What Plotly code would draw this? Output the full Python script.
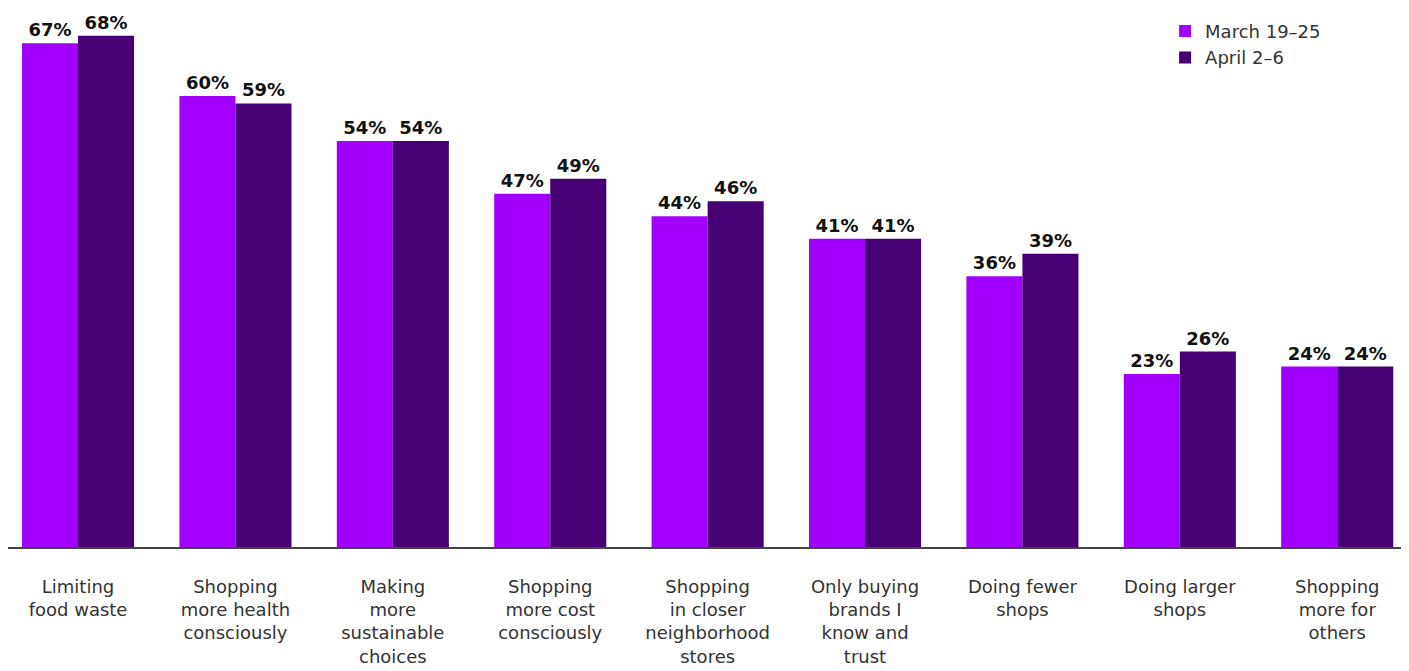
import plotly.graph_objects as go

categories = [
    "Limiting<br>food waste",
    "Shopping<br>more health<br>consciously",
    "Making<br>more<br>sustainable<br>choices",
    "Shopping<br>more cost<br>consciously",
    "Shopping<br>in closer<br>neighborhood<br>stores",
    "Only buying<br>brands I<br>know and<br>trust",
    "Doing fewer<br>shops",
    "Doing larger<br>shops",
    "Shopping<br>more for<br>others",
]
march = [67, 60, 54, 47, 44, 41, 36, 23, 24]
april = [68, 59, 54, 49, 46, 41, 39, 26, 24]
series_names = ["March 19\u201325", "April 2\u20136"]
colors = ["#A100FF", "#460073"]

fig = go.Figure()
for name, vals, col in zip(series_names, [march, april], colors):
    fig.add_trace(go.Bar(
        x=categories, y=vals, name=name,
        marker=dict(color=col, line=dict(width=0)),
        text=[f"{v}%" for v in vals],
        textposition="outside",
        textfont=dict(family="DejaVu Sans", size=18, color="#111111", weight="bold"),
        cliponaxis=False,
    ))

fig.update_layout(
    width=1401, height=663,
    margin=dict(l=0, r=0, t=0, b=124),
    paper_bgcolor="white", plot_bgcolor="white",
    barmode="group", bargap=0.288, bargroupgap=0,
    font=dict(family="DejaVu Sans", color="#333333"),
    legend=dict(
        x=0.8259, y=0.991, xanchor="left", yanchor="top",
        font=dict(size=18, color="#333333"),
        bgcolor="rgba(0,0,0,0)",
    ),
    showlegend=True,
)
fig.update_yaxes(range=[0, 71.7], visible=False, showgrid=False)
fig.update_xaxes(
    range=[-0.445, 8.456],
    showline=True, linecolor="#444444", linewidth=2,
    tickfont=dict(size=18, color="#333333"),
    ticks="", ticklabelstandoff=22, showgrid=False,
)
fig.write_html("out.html")
